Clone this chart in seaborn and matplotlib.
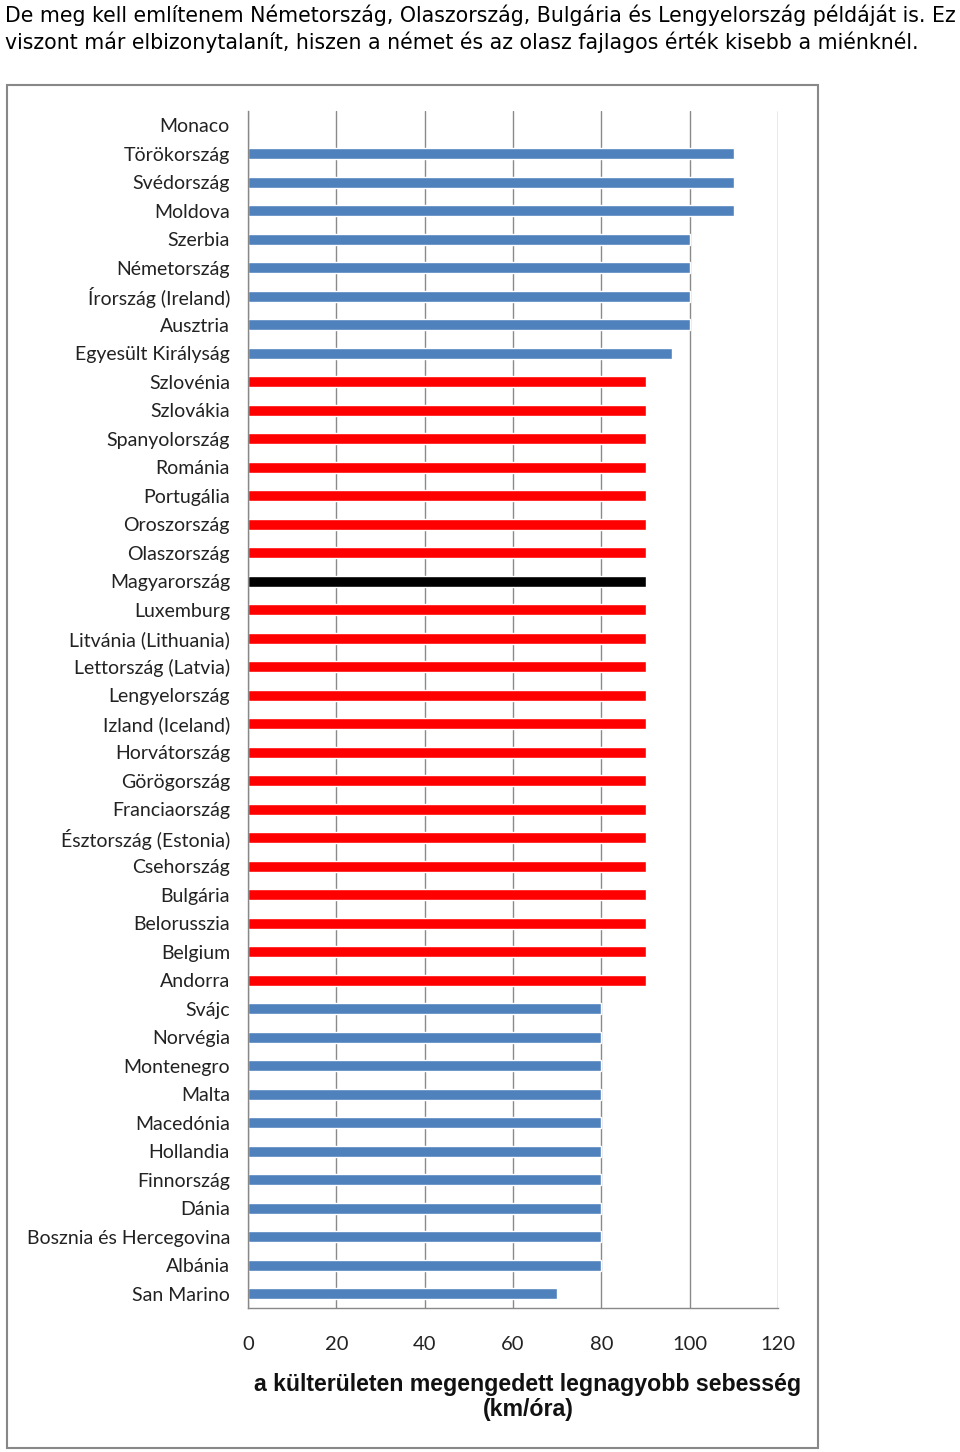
import matplotlib
matplotlib.use("Agg")
import matplotlib.pyplot as plt
import seaborn as sns
import pandas as pd
import numpy as np
from matplotlib.patches import Rectangle

countries = ["Monaco", "Törökország", "Svédország", "Moldova", "Szerbia", "Németország",
             "Írország (Ireland)", "Ausztria", "Egyesült Királyság", "Szlovénia", "Szlovákia",
             "Spanyolország", "Románia", "Portugália", "Oroszország", "Olaszország",
             "Magyarország", "Luxemburg", "Litvánia (Lithuania)", "Lettország (Latvia)",
             "Lengyelország", "Izland (Iceland)", "Horvátország", "Görögország",
             "Franciaország", "Észtország (Estonia)", "Csehország", "Bulgária", "Belorusszia",
             "Belgium", "Andorra", "Svájc", "Norvégia", "Montenegro", "Malta", "Macedónia",
             "Hollandia", "Finnország", "Dánia", "Bosznia és Hercegovina", "Albánia", "San Marino"]
speeds = [0, 110, 110, 110, 100, 100, 100, 100, 96, 90, 90, 90, 90, 90, 90, 90, 90, 90, 90, 90,
          90, 90, 90, 90, 90, 90, 90, 90, 90, 90, 90, 80, 80, 80, 80, 80, 80, 80, 80, 80, 80, 70]
groups = ["egyéb" if s != 90 else "90" for s in speeds]
groups[countries.index("Magyarország")] = "Magyarország"
palette = {"egyéb": "#4F81BD", "90": "#FF0000", "Magyarország": "#000000"}
x_ticks = [0, 20, 40, 60, 80, 100, 120]

df = pd.DataFrame({"country": countries, "speed": speeds, "group": groups})

sns.set_style("white")
plt.rcParams["font.family"] = ["DejaVu Sans"]

fig = plt.figure(figsize=(9.6, 14.52), dpi=100)
ax = fig.add_axes([248/960, 144/1452, 530/960, 1197/1452])

sns.barplot(data=df, x="speed", y="country", hue="group", palette=palette, order=countries,
            dodge=False, width=0.40, legend=False, ax=ax, saturation=1)

ax.set_xlim(0, 120)
ax.set_ylim(len(countries) - 0.5, -0.5)
ax.set_xticks(x_ticks)
ax.set_xticklabels([str(t) for t in x_ticks], fontsize=14.5, family="Lato", color="#222222")
ax.set_yticks(range(len(countries)))
ax.set_yticklabels(countries, fontsize=14, family="Lato", color="#222222")
ax.set_yticks(np.arange(-0.5, len(countries), 1.0), minor=True)
ax.tick_params(axis="y", which="major", length=0, pad=13)
ax.tick_params(axis="y", which="minor", length=6, color="#888888", width=1, direction="out")
ax.tick_params(axis="x", which="major", length=6, color="#888888", width=1, direction="out", pad=14)
ax.set_xlabel("")
ax.set_ylabel("")
ax.grid(axis="x", color="#8a8a8a", linewidth=1)
ax.set_axisbelow(True)
for s in ["top", "right"]:
    ax.spines[s].set_visible(False)
for s in ["left", "bottom"]:
    ax.spines[s].set_color("#888888")
    ax.spines[s].set_linewidth(1)

fig.text(528/960, 1 - 1397/1452, "a külterületen megengedett legnagyobb sebesség\n(km/óra)",
         ha="center", va="center", fontsize=16.7, fontweight="bold", family="Liberation Sans",
         linespacing=1.15, color="#111111")

fig.patches.append(Rectangle((7/960, 4/1452), 811/960, 1363/1452, transform=fig.transFigure,
                             fill=False, edgecolor="#888888", linewidth=1.5))

fig.text(5/960, 1 - 15/1452, "De meg kell említenem Németország, Olaszország, Bulgária és Lengyelország példáját is. Ez",
         ha="left", va="center", fontsize=14.8, family="DejaVu Sans", color="#000000")
fig.text(5/960, 1 - 42/1452, "viszont már elbizonytalanít, hiszen a német és az olasz fajlagos érték kisebb a miénknél.",
         ha="left", va="center", fontsize=14.8, family="DejaVu Sans", color="#000000")

fig.savefig("out.png", dpi=100)
